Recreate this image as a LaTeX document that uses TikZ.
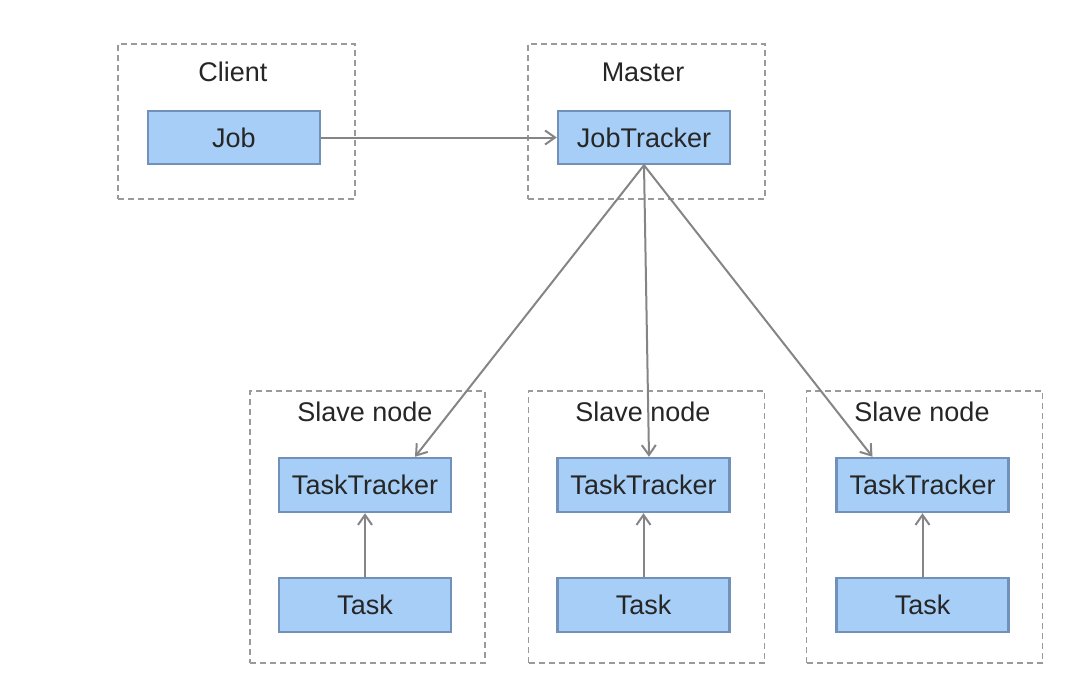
\documentclass[tikz,border=0pt]{standalone}
\usepackage{fontspec}
\setmainfont{Liberation Sans}
\usetikzlibrary{arrows.meta,calc}
\definecolor{boxfill}{HTML}{A7CEF7}
\definecolor{boxline}{HTML}{7191B8}
\definecolor{conn}{HTML}{858585}
\definecolor{dashc}{HTML}{9A9A9A}
\definecolor{txt}{HTML}{262626}
\tikzset{
  group/.style={draw=dashc, line width=0.8pt, dash pattern=on 3pt off 2pt, inner sep=0pt},
  proc/.style={draw=boxline, fill=boxfill, line width=1.2pt, inner sep=0pt, text=txt,
    font=\fontsize{13.5}{16}\selectfont},
  grouplabel/.style={text=txt, inner sep=0pt, font=\fontsize{13.5}{16}\selectfont},
  conn/.style={draw=conn, line width=1pt, -{Straight Barb[length=5pt,width=7pt]}},
}
\begin{document}
\begin{tikzpicture}[x=0.5pt,y=-0.5pt]
\useasboundingbox (0,0) rectangle (1086,690);
% groups
\node[group, minimum width=118.5pt, minimum height=77.5pt] (gclient) at (236.5,121.5) {};
\node[group, minimum width=118.5pt, minimum height=77.5pt] (gmaster) at (646.5,121.5) {};
\node[group, minimum width=117.5pt, minimum height=136pt] (gs1) at (367.5,527) {};
\node[group, minimum width=118pt, minimum height=136pt] (gs2) at (646.5,527) {};
\node[group, minimum width=118pt, minimum height=136pt] (gs3) at (924.5,527) {};
% labels
\node[grouplabel] (lclient) at (233,72) {Client};
\node[grouplabel] (lmaster) at (643,72) {Master};
\node[grouplabel] (ls1) at (365,412) {Slave node};
\node[grouplabel] (ls2) at (643,412) {Slave node};
\node[grouplabel] (ls3) at (922,412) {Slave node};
% process boxes
\node[proc, minimum width=86pt, minimum height=26.5pt] (job) at (234,137.5) {Job};
\node[proc, minimum width=86pt, minimum height=26.5pt] (jt) at (644,137.5) {JobTracker};
\node[proc, minimum width=86pt, minimum height=27pt] (tt1) at (365,485) {TaskTracker};
\node[proc, minimum width=86pt, minimum height=27pt] (tt2) at (643.5,485) {TaskTracker};
\node[proc, minimum width=86pt, minimum height=27pt] (tt3) at (922.5,485) {TaskTracker};
\node[proc, minimum width=86pt, minimum height=27pt] (t1) at (365,605) {Task};
\node[proc, minimum width=86pt, minimum height=27pt] (t2) at (643.5,605) {Task};
\node[proc, minimum width=86pt, minimum height=27pt] (t3) at (922.5,605) {Task};
% connectors
\draw[conn] (job.east) -- (jt.west);
\draw[conn] (jt.south) -- ($(tt1.north)+(50,0)$);
\draw[conn] (jt.south) -- ($(tt2.north)+(5.5,0)$);
\draw[conn] (jt.south) -- ($(tt3.north)+(-50,0)$);
\draw[conn] (t1.north) -- (tt1.south);
\draw[conn] (t2.north) -- (tt2.south);
\draw[conn] (t3.north) -- (tt3.south);
\end{tikzpicture}
\end{document}
